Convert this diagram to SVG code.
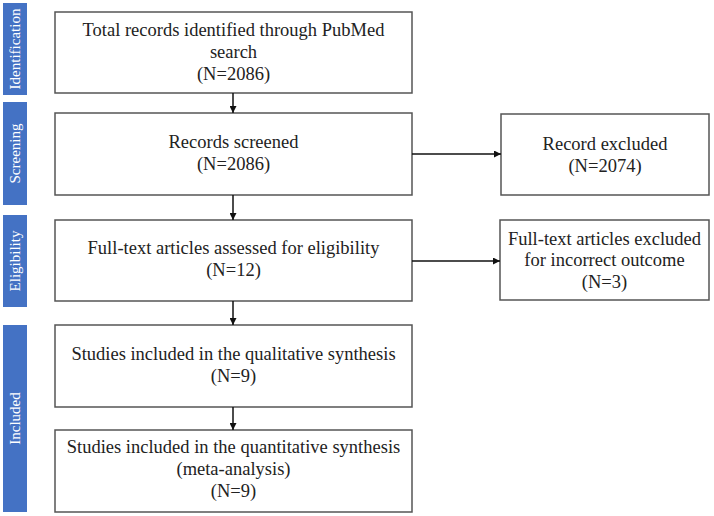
<svg xmlns="http://www.w3.org/2000/svg" width="714" height="516" viewBox="0 0 714 516">
<defs>
<style>
.bar{fill:#4472C4}
.bt{fill:#fff;font-family:'Liberation Serif','Tinos','Times New Roman','DejaVu Serif',serif;font-size:15px;text-anchor:middle}
.box{fill:#fff;stroke:#555;stroke-width:1.5}
.t{fill:#222;font-family:'Liberation Serif','Tinos','Times New Roman','DejaVu Serif',serif;font-size:18.5px;text-anchor:middle}
.c{stroke:#111;stroke-width:1.5;fill:none;marker-end:url(#ah)}
</style>
<marker id="ah" viewBox="0 0 10 10" refX="10" refY="5" markerWidth="7" markerHeight="7" markerUnits="userSpaceOnUse" orient="auto">
<path d="M0,0 L10,5 L0,10 z" fill="#111"/>
</marker>
</defs>
<rect width="714" height="516" fill="#fff"/>
<g id="stage-identification">
<rect class="bar" x="3" y="3" width="24" height="92"/>
<text class="bt" transform="translate(20,49) rotate(-90)">Identification</text>
</g>
<g id="stage-screening">
<rect class="bar" x="3" y="102" width="24" height="103"/>
<text class="bt" transform="translate(20,153.5) rotate(-90)">Screening</text>
</g>
<g id="stage-eligibility">
<rect class="bar" x="3" y="215" width="24" height="92"/>
<text class="bt" transform="translate(20,261) rotate(-90)">Eligibility</text>
</g>
<g id="stage-included">
<rect class="bar" x="3" y="325" width="24" height="187"/>
<text class="bt" transform="translate(20,418.5) rotate(-90)">Included</text>
</g>
<g id="n1">
<rect class="box" x="55" y="12" width="357" height="81"/>
<text class="t" x="233.5" y="36">Total records identified through PubMed</text>
<text class="t" x="233.5" y="58">search</text>
<text class="t" x="233.5" y="80">(N=2086)</text>
</g>
<g id="n2">
<rect class="box" x="55" y="113" width="357" height="82"/>
<text class="t" x="233.5" y="148">Records screened</text>
<text class="t" x="233.5" y="170">(N=2086)</text>
</g>
<g id="n3">
<rect class="box" x="501" y="114" width="208" height="81"/>
<text class="t" x="605" y="150">Record excluded</text>
<text class="t" x="605" y="172">(N=2074)</text>
</g>
<g id="n4">
<rect class="box" x="55" y="220" width="357" height="81"/>
<text class="t" x="233.5" y="254">Full-text articles assessed for eligibility</text>
<text class="t" x="233.5" y="276">(N=12)</text>
</g>
<g id="n5">
<rect class="box" x="500" y="220" width="209" height="80"/>
<text class="t" x="604.5" y="245">Full-text articles excluded</text>
<text class="t" x="604.5" y="266">for incorrect outcome</text>
<text class="t" x="604.5" y="288">(N=3)</text>
</g>
<g id="n6">
<rect class="box" x="55" y="325" width="357" height="82"/>
<text class="t" x="233.5" y="360">Studies included in the qualitative synthesis</text>
<text class="t" x="233.5" y="382">(N=9)</text>
</g>
<g id="n7">
<rect class="box" x="55" y="430" width="357" height="82"/>
<text class="t" x="233.5" y="453">Studies included in the quantitative synthesis</text>
<text class="t" x="233.5" y="475">(meta-analysis)</text>
<text class="t" x="233.5" y="497">(N=9)</text>
</g>
<g id="connectors">
<line class="c" x1="233" y1="93" x2="233" y2="113"/>
<line class="c" x1="233" y1="195" x2="233" y2="220"/>
<line class="c" x1="233" y1="301" x2="233" y2="325"/>
<line class="c" x1="233" y1="407" x2="233" y2="430"/>
<line class="c" x1="412" y1="154" x2="501" y2="154"/>
<line class="c" x1="412" y1="261" x2="500" y2="261"/>
</g>
</svg>
